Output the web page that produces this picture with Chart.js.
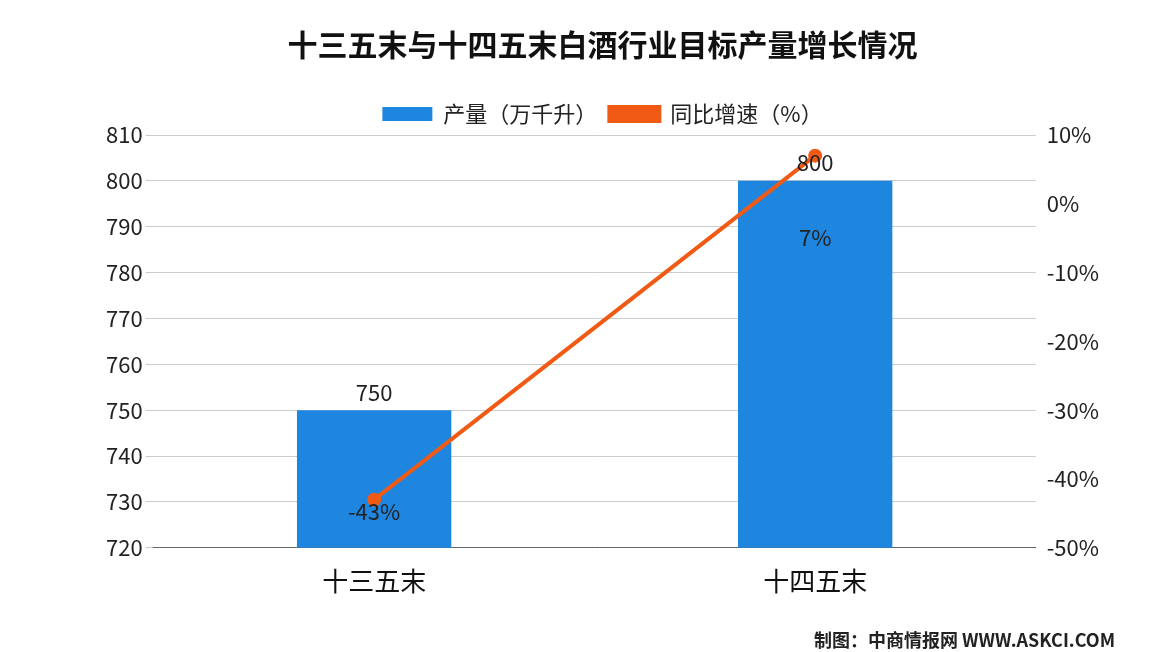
<!DOCTYPE html>
<html><head><meta charset="utf-8">
<script src="https://cdn.jsdelivr.net/npm/chart.js@4/dist/chart.umd.min.js"></script>
<style>body{margin:0;background:#fff}#w{position:relative;width:1152px;height:652px}</style>
</head><body><div id="w"><canvas id="c" width="1152" height="652"></canvas></div>
<script>
const categories=['十三五末','十四五末'];
const output=[750,800];
const growth=[-43,7];
const F='"Noto Sans CJK SC","DejaVu Sans",sans-serif';
const labels={id:'lbl',afterDatasetsDraw(ch){
 const c=ch.ctx;c.save();c.font='22px '+F;c.fillStyle='#222';c.textAlign='center';
 ch.getDatasetMeta(0).data.forEach((b,i)=>c.fillText(output[i],b.x,b.y-18));
 const m=ch.getDatasetMeta(1).data;
 c.fillText(growth[0]+'%',m[0].x,m[0].y+12);
 c.fillText(growth[1]+'%',m[1].x,m[1].y+82);
 c.font='bold 18px '+F;c.textAlign='right';c.fillText('制图：中商情报网 WWW.ASKCI.COM',1115,640);
 c.restore();}};
new Chart(document.getElementById('c'),{type:'bar',plugins:[labels],
data:{labels:categories,datasets:[
 {type:'bar',label:'产量（万千升）',data:output,backgroundColor:'#1f86e0',yAxisID:'y',barPercentage:0.35,categoryPercentage:1,order:2},
 {type:'line',label:'同比增速（%）',data:growth,borderColor:'#f05a14',backgroundColor:'#f05a14',borderWidth:4,pointRadius:5,yAxisID:'y1',order:1}]},
options:{responsive:false,animation:false,
 layout:{padding:{left:103,right:50,bottom:45,top:5}},
 plugins:{title:{display:true,text:'十三五末与十四五末白酒行业目标产量增长情况',font:{family:F,size:30,weight:'bold'},color:'#111',padding:{top:22,bottom:28}},
  legend:{labels:{font:{family:F,size:22},color:'#222',boxWidth:50,boxHeight:14,padding:12,sort:(a,b)=>a.datasetIndex-b.datasetIndex},padding:0},tooltip:{enabled:false}},
 scales:{
  x:{grid:{display:false},border:{color:'#666'},ticks:{font:{family:F,size:26},color:'#111',padding:10}},
  y:{min:720,max:810,ticks:{stepSize:10,font:{family:F,size:22},color:'#222'},grid:{color:'#ccc'},border:{display:false}},
  y1:{position:'right',min:-50,max:10,ticks:{stepSize:10,callback:v=>v+'%',font:{family:F,size:22},color:'#222'},grid:{display:false},border:{display:false}}}}});
</script></body></html>
